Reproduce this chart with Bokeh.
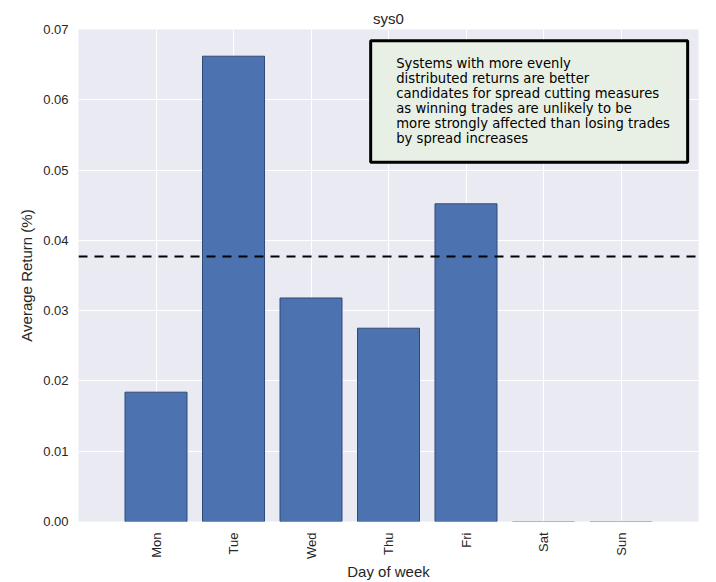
import math
from bokeh.plotting import figure
from bokeh.models import (Span, Label, BoxAnnotation, FixedTicker,
                          PrintfTickFormatter, ColumnDataSource)
from bokeh.embed import file_html
from bokeh.resources import INLINE

# ---- data ----
days = ["Mon", "Tue", "Wed", "Thu", "Fri", "Sat", "Sun"]
avg_return = [0.0184, 0.0662, 0.0318, 0.0275, 0.0452, 0.0, 0.0]
mean_return = 0.0377
y_ticks = [0.00, 0.01, 0.02, 0.03, 0.04, 0.05, 0.06, 0.07]
note_lines = [
    "Systems with more evenly",
    "distributed returns are better",
    "candidates for spread cutting measures",
    "as winning trades are unlikely to be",
    "more strongly affected than losing trades",
    "by spread increases",
]

positions = list(range(len(days)))
edge_colors = ["#2F4A78" if v > 0 else "#A0A0B0" for v in avg_return]
source = ColumnDataSource(dict(x=positions, top=avg_return, day=days,
                               edge=edge_colors))

TICK_FONT = "Liberation Sans"
TEXT_COLOR = "#262626"

p = figure(width=716, height=582, output_backend="svg", toolbar_location=None,
           x_range=(-1, len(days)), y_range=(y_ticks[0], y_ticks[-1]),
           min_border_left=78, min_border_right=18, min_border_top=29,
           min_border_bottom=61)

p.title.text = "sys0"
p.title.align = "center"
p.title.text_font = TICK_FONT
p.title.text_font_size = "15px"
p.title.text_font_style = "normal"
p.title.text_color = TEXT_COLOR
p.title.standoff = 6

p.background_fill_color = "#EAEAF2"
p.border_fill_color = "white"
p.outline_line_color = None

p.vbar(x="x", top="top", bottom=0, width=0.8, source=source,
       fill_color="#4C72B0", line_color="edge", line_width=1)

# mean line
p.add_layout(Span(location=mean_return, dimension="width", line_color="black",
                  line_width=2, line_dash="9 7", level="overlay"))

# note box
p.add_layout(BoxAnnotation(left=2.77, right=6.86, bottom=0.0511, top=0.0684,
                           fill_color="#E8F0E5", fill_alpha=1.0,
                           line_color="black", line_alpha=1.0, line_width=3,
                           level="overlay"))
p.add_layout(Label(x=3.10, y=0.0662, text="\n".join(note_lines),
                   text_font="DejaVu Sans", text_font_size="13.2px",
                   text_color="black", text_baseline="top",
                   text_line_height=1.0, level="overlay"))

# axes
p.xaxis.ticker = FixedTicker(ticks=positions)
p.xaxis.major_label_overrides = {i: d for i, d in zip(positions, days)}
p.xaxis.major_label_orientation = math.pi / 2
p.yaxis.ticker = FixedTicker(ticks=y_ticks)
p.yaxis.formatter = PrintfTickFormatter(format="%.2f")
p.xaxis.axis_label = "Day of week"
p.yaxis.axis_label = "Average Return (%)"

for ax in (p.xaxis, p.yaxis):
    ax.axis_line_color = None
    ax.major_tick_line_color = None
    ax.minor_tick_line_color = None
    ax.major_label_text_font = TICK_FONT
    ax.major_label_text_font_size = "13px"
    ax.major_label_text_color = TEXT_COLOR
    ax.axis_label_text_font = TICK_FONT
    ax.axis_label_text_font_size = "15px"
    ax.axis_label_text_font_style = "normal"
    ax.axis_label_text_color = TEXT_COLOR
p.xaxis.major_label_standoff = 5
p.xaxis.axis_label_standoff = 1
p.yaxis.major_label_standoff = 4
p.yaxis.axis_label_standoff = 5

p.grid.grid_line_color = "white"
p.grid.grid_line_width = 1
p.xgrid.ticker = FixedTicker(ticks=positions)
p.ygrid.ticker = FixedTicker(ticks=y_ticks)

open("out.html", "w").write(file_html(p, INLINE))
